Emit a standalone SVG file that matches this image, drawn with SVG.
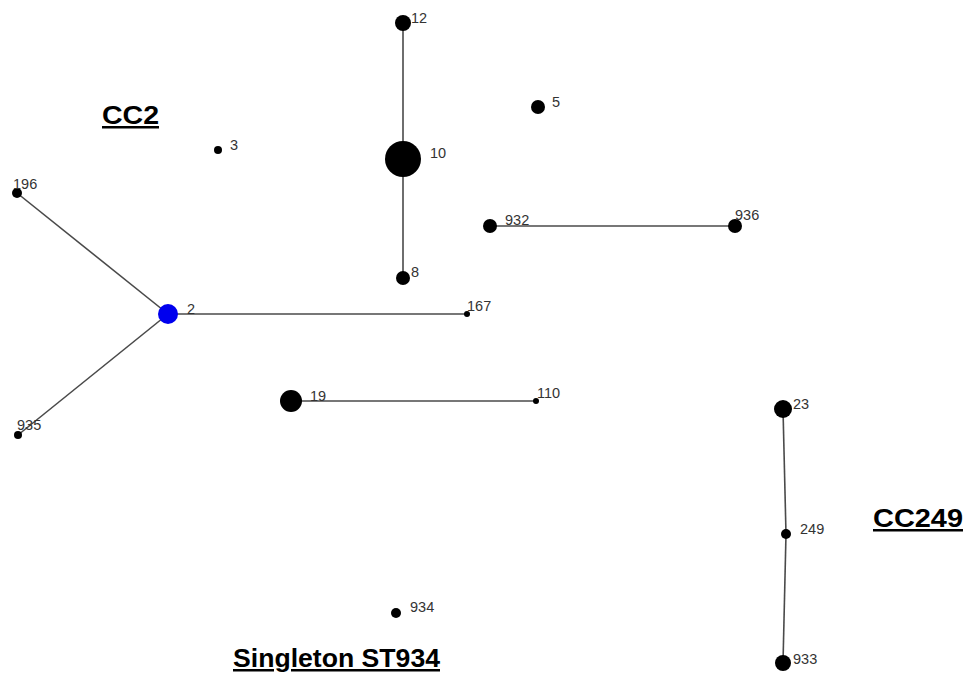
<svg xmlns="http://www.w3.org/2000/svg" width="971" height="677" viewBox="0 0 971 677">
<style>
.n{fill:#000}
.lbl{font-family:"Liberation Sans",Arial,sans-serif;font-size:14.5px;fill:#333}
.title{font-family:"Liberation Sans",Arial,sans-serif;font-size:25px;font-weight:bold;fill:#000;text-decoration:underline}
.e{stroke:#4a4a4a;stroke-width:1.6;fill:none}
</style>
<rect width="971" height="677" fill="#fff"/>
<g id="connectors">
<line class="e" x1="403" y1="23" x2="403" y2="159"/>
<line class="e" x1="403" y1="159" x2="403" y2="278"/>
<line class="e" x1="490" y1="226" x2="735" y2="226"/>
<line class="e" x1="17" y1="193" x2="168" y2="314"/>
<line class="e" x1="168" y1="314" x2="18" y2="435"/>
<line class="e" x1="168" y1="314" x2="467" y2="314"/>
<line class="e" x1="291" y1="401" x2="536" y2="401"/>
<line class="e" x1="783" y1="409" x2="786" y2="534"/>
<line class="e" x1="786" y1="534" x2="783" y2="663"/>
</g>
<g id="n12"><circle class="n" cx="403" cy="23" r="8"/><text class="lbl" x="411" y="23">12</text></g>
<g id="n10"><circle class="n" cx="403" cy="159" r="18"/><text class="lbl" x="430" y="158">10</text></g>
<g id="n8"><circle class="n" cx="403" cy="278" r="7"/><text class="lbl" x="411" y="277">8</text></g>
<g id="n5"><circle class="n" cx="538" cy="107" r="7"/><text class="lbl" x="552" y="107">5</text></g>
<g id="n3"><circle class="n" cx="218" cy="150" r="4"/><text class="lbl" x="230" y="150">3</text></g>
<g id="n196"><circle class="n" cx="17" cy="193" r="5"/><text class="lbl" x="13" y="189">196</text></g>
<g id="n2"><circle cx="168" cy="314" r="10" fill="#0000ee"/><text class="lbl" x="187" y="314">2</text></g>
<g id="n935"><circle class="n" cx="18" cy="435" r="4"/><text class="lbl" x="17" y="430">935</text></g>
<g id="n167"><circle class="n" cx="467" cy="314" r="3"/><text class="lbl" x="467" y="311">167</text></g>
<g id="n932"><circle class="n" cx="490" cy="226" r="7"/><text class="lbl" x="505" y="225">932</text></g>
<g id="n936"><circle class="n" cx="735" cy="226" r="7"/><text class="lbl" x="735" y="220">936</text></g>
<g id="n19"><circle class="n" cx="291" cy="401" r="11"/><text class="lbl" x="310" y="401">19</text></g>
<g id="n110"><circle class="n" cx="536" cy="401" r="3"/><text class="lbl" x="537" y="398">110</text></g>
<g id="n23"><circle class="n" cx="783" cy="409" r="9"/><text class="lbl" x="793" y="409">23</text></g>
<g id="n249"><circle class="n" cx="786" cy="534" r="5"/><text class="lbl" x="800" y="534">249</text></g>
<g id="n933"><circle class="n" cx="783" cy="663" r="8"/><text class="lbl" x="793" y="664">933</text></g>
<g id="n934"><circle class="n" cx="396" cy="613" r="5"/><text class="lbl" x="410" y="612">934</text></g>
<g id="labels">
<text class="title" x="102" y="124" textLength="57" lengthAdjust="spacingAndGlyphs">CC2</text>
<text class="title" x="873" y="527" textLength="90" lengthAdjust="spacingAndGlyphs">CC249</text>
<text class="title" x="233" y="667" textLength="207" lengthAdjust="spacingAndGlyphs">Singleton ST934</text>
</g>
</svg>
